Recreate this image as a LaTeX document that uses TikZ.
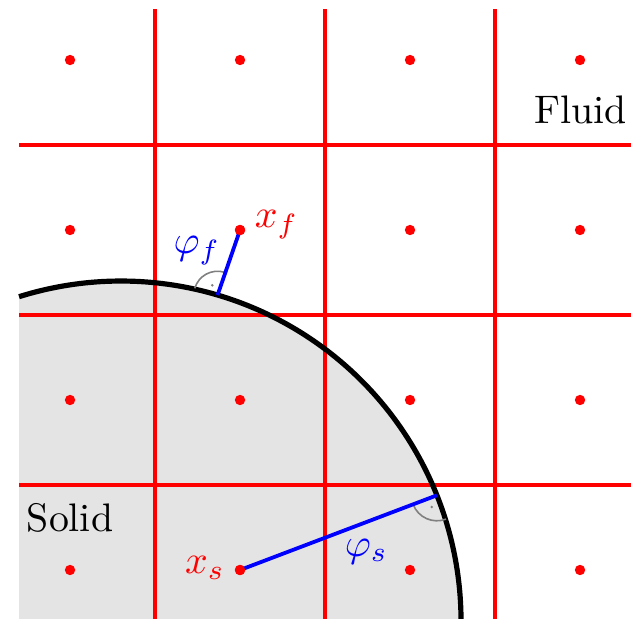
\documentclass[tikz,border=0pt]{standalone}
\definecolor{solidgray}{RGB}{228,228,228}
\tikzset{
  gridline/.style={red, line width=0.8pt},
  dotnode/.style={circle, fill=red, inner sep=0pt, minimum size=2.6pt},
  normalline/.style={blue, line width=0.95pt},
  rightmark/.style={gray, line width=0.4pt},
  boundary/.style={black, line width=1.3pt},
  redlabel/.style={red, inner sep=0pt},
  bluelabel/.style={blue, inner sep=0pt},
}
\begin{document}
\begin{tikzpicture}[x=1.5cm,y=1.5cm]
\useasboundingbox (0.088,0.2176) rectangle (3.841,3.853);
% solid region
\fill[solidgray] (0.2,0.2) -- ([shift={(107.46:2)}]0.8,0.2) arc (107.46:0:2) -- cycle;
% grid
\foreach \k in {1,2,3} {
  \draw[gridline] (\k,0.2) -- (\k,3.8);
  \draw[gridline] (0.2,\k) -- (3.8,\k);
}
% boundary
\draw[boundary] ([shift={(107.46:2)}]0.8,0.2) arc (107.46:0:2);
% cell centres
\foreach \i in {0,1,2,3} {
  \foreach \j in {0,1,2,3} {
    \node[dotnode] (d\i\j) at (\i+0.5,\j+0.5) {};
  }
}
% foot points
\coordinate (pf) at ([shift={(73.5:2)}]0.8,0.2);
\coordinate (ps) at ([shift={(21.7:2)}]0.8,0.2);
% right angle marks
\draw[rightmark] ([shift={(73.5:0.14)}]pf) arc (73.5:163.5:0.14);
\fill[gray] ([shift={(118.5:0.065)}]pf) circle (0.35pt);
\draw[rightmark] ([shift={(201:0.15)}]ps) arc (201:291:0.15);
\fill[gray] ([shift={(246:0.075)}]ps) circle (0.35pt);
% normal lines
\draw[normalline] (d12.center) -- (pf);
\draw[normalline] (d10.center) -- (ps);
\node[dotnode] at (d12.center) {};
\node[dotnode] at (d10.center) {};
% labels
\node[redlabel] (lxf) at (1.715,2.53) {$x_f$};
\node[redlabel] (lxs) at (1.294,0.51) {$x_s$};
\node[bluelabel] (lpf) at (1.247,2.38) {$\varphi_f$};
\node[bluelabel] (lps) at (2.243,0.61) {$\varphi_s$};
\node (fluid) at (3.505,3.206) {Fluid};
\node (solid) at (0.5,0.806) {Solid};
\end{tikzpicture}
\end{document}
